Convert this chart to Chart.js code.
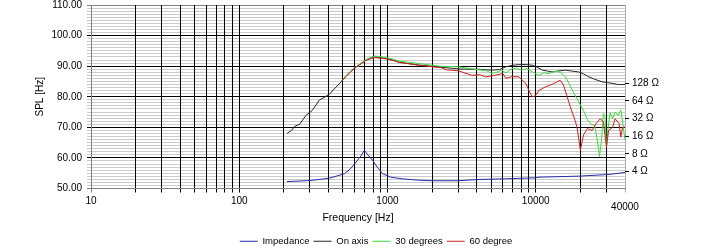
<!DOCTYPE html>
<html>
<head>
<meta charset="utf-8">
<script src="https://cdn.jsdelivr.net/npm/chart.js@4.4.1/dist/chart.umd.min.js"></script>
<style>
html, body { margin: 0; padding: 0; background: #fff; }
#wrap { width: 713px; height: 248px; }
</style>
</head>
<body>
<div id="wrap"><canvas id="myChart" width="713" height="248"></canvas></div>
<script>
// Impedance curve (Hz / ohm, right axis)
const impFreq = [210, 305, 405, 512, 560, 614, 660, 698, 740, 794, 860, 927, 1050, 1260, 1600, 2000, 3000, 4140, 6270, 9950, 10500, 19500, 31300, 40000];
const impOhm = [2.69, 2.81, 3.07, 3.66, 4.4, 5.78, 7.3, 9.17, 7.6, 6.18, 4.6, 3.66, 3.2, 3.0, 2.85, 2.78, 2.78, 2.92, 3.0, 3.12, 3.2, 3.33, 3.56, 3.85];

// On axis (Hz / dB)
const onAxisFreq = [210, 225, 236, 255, 282, 310, 347, 380, 405, 450, 490, 525, 555, 600, 650, 716, 770, 815, 870, 980, 1100, 1200, 1400, 1650, 2000, 2250, 2600, 3000, 3500, 4100, 4600, 5100, 5700, 6300, 7000, 7700, 8600, 9500, 10300, 11100, 12000, 12900, 14000, 15900, 17500, 19500, 21000, 22800, 25000, 28000, 30500, 32700, 36000, 40000];
const onAxisSpl = [68.0, 69.0, 70.3, 71.0, 73.9, 75.5, 78.9, 80.0, 80.8, 83.2, 85.0, 86.8, 88.0, 89.5, 90.6, 92.0, 92.7, 93.1, 92.8, 92.5, 91.8, 91.3, 90.8, 90.3, 90.0, 89.7, 89.4, 89.1, 89.0, 89.0, 88.8, 88.7, 88.9, 89.8, 90.3, 90.5, 90.5, 90.3, 89.6, 88.7, 88.4, 88.1, 88.4, 88.7, 88.4, 88.1, 87.5, 86.5, 85.7, 84.9, 84.6, 84.4, 84.0, 84.0];

// 30 degrees (Hz / dB)
const deg30Freq = [490, 525, 555, 600, 650, 716, 815, 870, 980, 1100, 1200, 1400, 1650, 2000, 2300, 2600, 3000, 3500, 4100, 4600, 5100, 5600, 5900, 6300, 6900, 7400, 8000, 8700, 9480, 10500, 11300, 12300, 13500, 14600, 15900, 17500, 19500, 21000, 22300, 23500, 25000, 26000, 26900, 27800, 28600, 29300, 30000, 30800, 31800, 33000, 34300, 36000, 37500, 38500, 40000];
const deg30Spl = [85.2, 86.8, 88.0, 89.4, 90.6, 92.1, 93.3, 93.2, 92.8, 92.3, 91.6, 91.3, 90.8, 90.3, 89.9, 89.9, 89.8, 89.3, 88.8, 88.6, 87.6, 88.2, 88.7, 87.8, 89.2, 89.3, 88.7, 89.2, 88.1, 87.0, 87.8, 87.6, 88.3, 88.1, 86.5, 82.5, 78.3, 75.5, 72.5, 71.2, 70.5, 66.0, 60.5, 66.0, 74.5, 73.5, 63.5, 70.0, 74.8, 72.8, 75.0, 73.9, 75.6, 72.0, 65.8];

// 60 degree (Hz / dB)
const deg60Freq = [490, 525, 555, 600, 650, 716, 815, 900, 980, 1100, 1200, 1400, 1650, 2000, 2300, 2500, 3000, 3700, 4200, 4600, 5300, 6000, 6300, 6900, 7700, 8600, 9000, 9500, 10000, 10500, 11600, 13200, 14600, 15400, 16300, 17100, 18200, 19000, 20000, 21000, 22300, 24000, 25500, 27300, 28600, 30000, 31000, 33000, 34300, 36500, 37500, 38500, 40000];
const deg60Spl = [85.2, 86.6, 87.8, 89.3, 90.5, 91.9, 92.8, 92.6, 92.4, 91.9, 91.2, 90.8, 90.3, 89.8, 89.5, 88.8, 88.5, 87.0, 87.2, 86.5, 87.0, 87.6, 86.0, 86.6, 86.5, 84.3, 82.0, 79.9, 80.5, 82.1, 83.2, 84.3, 85.4, 83.8, 80.0, 76.7, 73.0, 70.1, 62.5, 67.5, 69.6, 69.0, 71.2, 72.8, 71.7, 63.5, 69.0, 70.0, 72.8, 71.2, 66.8, 70.0, 70.1];

// Axis ticks
const xLabels = [10, 100, 1000, 10000, 40000];
const ohmTicks = [4, 8, 16, 32, 64, 128];
const xGrid = [];
[10, 100, 1000, 10000].forEach(d => {
  for (let m = 1; m <= 9; m++) if (d * m <= 40000) xGrid.push(d * m);
});

const pairs = (xs, ys) => xs.map((x, i) => ({ x: x, y: ys[i] }));

Chart.defaults.font.family = '"Liberation Sans", Arial, sans-serif';
Chart.defaults.font.size = 10;
Chart.defaults.color = '#000';

const ctx = document.getElementById('myChart').getContext('2d');

const line = (label, data, color, order, axis) => ({
  label: label,
  data: data,
  borderColor: color,
  backgroundColor: color,
  borderWidth: 1,
  pointRadius: 0,
  tension: 0,
  order: order,
  yAxisID: axis
});

// no extra room for half labels at the ends of the vertical axes
const noVertPad = s => { s.paddingTop = 0; s.paddingBottom = 0; };

const myChart = new Chart(ctx, {
  type: 'line',
  data: {
    datasets: [
      line('Impedance', pairs(impFreq, impOhm), '#2a2aa8', 3, 'y2'),
      line('On axis', pairs(onAxisFreq, onAxisSpl), '#262626', 2, 'y'),
      line('30 degrees', pairs(deg30Freq, deg30Spl), '#3ddc3d', 1, 'y'),
      line('60 degree', pairs(deg60Freq, deg60Spl), '#cc2222', 0, 'y')
    ]
  },
  options: {
    responsive: false,
    animation: false,
    devicePixelRatio: 1,
    layout: { padding: { left: 44, right: 5, top: 5, bottom: -8 } },
    plugins: {
      tooltip: { enabled: false },
      legend: {
        position: 'bottom',
        labels: {
          usePointStyle: true,
          pointStyle: 'line',
          pointStyleWidth: 18,
          padding: 4,
          font: { size: 9.5 },
          sort: (a, b) => a.datasetIndex - b.datasetIndex
        }
      }
    },
    scales: {
      x: {
        type: 'logarithmic',
        min: 10,
        max: 40000,
        afterBuildTicks: s => { s.ticks = xGrid.map(v => ({ value: v })); },
        afterFit: s => { s.height = 44; },
        ticks: {
          autoSkip: false,
          maxRotation: 0,
          padding: 3,
          font: c => (c.tick && c.tick.value === 40000) ? { size: 10, lineHeight: 0.8 } : { size: 10 },
          callback: v => v === 40000 ? ['', '40000'] : (xLabels.includes(v) ? String(v) : '')
        },
        grid: {
          z: -1,
          color: c => (c.tick && (c.tick.value === 10)) ? '#808080' : (c.tick && c.tick.value === 40000 ? '#b0b0b0' : '#000'),
          tickLength: 4
        },
        border: { color: '#808080' },
        title: { display: true, text: 'Frequency [Hz]', font: { size: 10.5 }, padding: { top: 0, bottom: 8 } }
      },
      y: {
        min: 50,
        max: 110,
        afterFit: s => { s.width = 47; noVertPad(s); },
        ticks: {
          stepSize: 1,
          autoSkip: false,
          padding: 5,
          callback: v => v % 10 === 0 ? v.toFixed(2) : ''
        },
        grid: {
          z: -2,
          color: c => {
            const v = c.tick ? c.tick.value : 0;
            if (v === 110 || v === 50) return '#808080';
            return v % 10 === 0 ? '#000' : '#cbcbcb';
          },
          tickLength: 4
        },
        border: { color: '#808080' },
        title: { display: true, text: 'SPL [Hz]', font: { size: 10 }, padding: { top: -10, bottom: 0 } }
      },
      y2: {
        type: 'logarithmic',
        position: 'right',
        min: 2.05,
        max: 2764,
        afterBuildTicks: s => { s.ticks = ohmTicks.map(v => ({ value: v })); },
        afterFit: s => { s.width = 83; noVertPad(s); },
        ticks: {
          autoSkip: false,
          padding: 3,
          callback: v => v + ' Ω'
        },
        grid: { drawOnChartArea: false, tickLength: 4, color: '#000' },
        border: { display: false }
      }
    }
  }
});
</script>
</body>
</html>
